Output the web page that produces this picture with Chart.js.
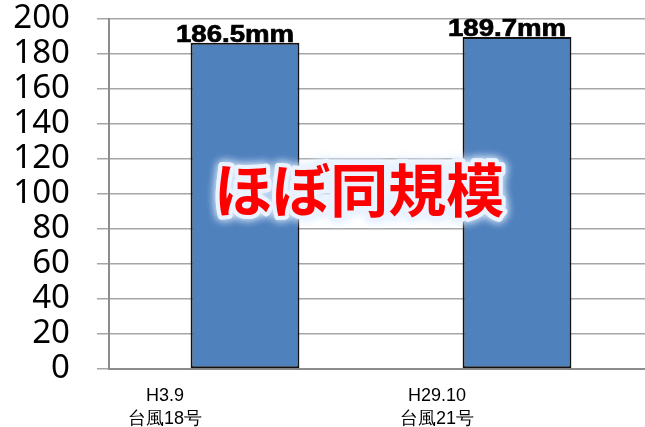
<!DOCTYPE html>
<html>
<head>
<meta charset="utf-8">
<script src="https://cdn.jsdelivr.net/npm/chart.js"></script>
<style>
    html, body { margin: 0; padding: 0; background: #fff; overflow: hidden; }
    #wrap { width: 645px; height: 427px; overflow: hidden; }
</style>
</head>
<body>
<div id="wrap"><canvas id="chart" width="660" height="427"></canvas></div>
<script>
// Rainfall totals for the two typhoons
const categories = [['H3.9', '台風18号'], ['H29.10', '台風21号']];
const rainfall = [186.5, 189.7];
const valueLabels = ['186.5mm', '189.7mm'];
const yTicks = [0, 20, 40, 60, 80, 100, 120, 140, 160, 180, 200];
const overlayText = 'ほぼ同規模';

// Draws the "mm" labels on top of each bar
const valueLabelPlugin = {
    id: 'valueLabels',
    afterDatasetsDraw(chart) {
        const ctx = chart.ctx;
        const meta = chart.getDatasetMeta(0);
        ctx.save();
        ctx.fillStyle = '#000';
        ctx.strokeStyle = '#000';
        ctx.lineWidth = 0.7;
        ctx.font = 'bold 23px "Liberation Sans", Arial, sans-serif';
        ctx.textAlign = 'center';
        ctx.textBaseline = 'alphabetic';
        meta.data.forEach((bar, i) => {
            ctx.save();
            ctx.translate(bar.x - 10, bar.y - 1);
            ctx.scale(1.2, 1);
            ctx.fillText(valueLabels[i], 0, 0);
            ctx.strokeText(valueLabels[i], 0, 0);
            ctx.restore();
        });
        ctx.restore();
    }
};

// Big red glowing caption over the chart
const overlayPlugin = {
    id: 'overlay',
    afterDraw(chart) {
        const ctx = chart.ctx;
        const area = chart.chartArea;
        const y = chart.scales.y.getPixelForValue(100) - 4;
        const x = area.left + area.width * 0.46;
        ctx.save();
        ctx.font = 'bold 58px "Noto Sans CJK JP", sans-serif';
        ctx.textAlign = 'center';
        ctx.textBaseline = 'middle';
        ctx.lineJoin = 'round';
        ctx.shadowColor = 'rgba(225,238,255,1)';
        ctx.shadowBlur = 10;
        ctx.strokeStyle = 'rgba(235,243,255,0.85)';
        ctx.lineWidth = 8;
        ctx.strokeText(overlayText, x, y);
        ctx.strokeText(overlayText, x, y);
        ctx.shadowBlur = 0;
        ctx.fillStyle = '#ff0000';
        ctx.fillText(overlayText, x, y);
        ctx.restore();
    }
};

new Chart(document.getElementById('chart'), {
    type: 'bar',
    data: {
        labels: categories,
        datasets: [{
            data: rainfall,
            backgroundColor: '#4f81bd',
            borderColor: '#111',
            borderWidth: 2,
            borderSkipped: false,
            categoryPercentage: 1.0,
            barPercentage: 0.4
        }]
    },
    options: {
        responsive: false,
        animation: false,
        layout: { padding: { top: 19, right: 7, left: 0, bottom: 0 } },
        plugins: {
            legend: { display: false },
            tooltip: { enabled: false }
        },
        scales: {
            x: {
                grid: { display: false },
                border: { display: true, color: '#8c8c8c', width: 2 },
                ticks: {
                    color: '#000',
                    font: { family: '"Liberation Sans Narrow", "Liberation Sans", sans-serif', size: 18, lineHeight: 1.25 },
                    padding: 8,
                    labelOffset: -80,
                    maxRotation: 0,
                    autoSkip: false
                },
                afterFit(scale) {
                    scale.height = 58;
                    scale.paddingLeft = 0;
                    scale.paddingRight = 0;
                }
            },
            y: {
                min: 0,
                max: 200,
                afterBuildTicks(scale) {
                    scale.ticks = yTicks.map(v => ({ value: v }));
                },
                grid: {
                    color: '#a6a6a6',
                    lineWidth: 1.5,
                    tickLength: 12,
                    drawTicks: true
                },
                border: { display: true, color: '#8c8c8c', width: 2 },
                ticks: {
                    color: '#000',
                    font: { family: '"Noto Sans", sans-serif', size: 33, lineHeight: 1.15 },
                    padding: 27,
                    autoSkip: false
                },
                afterFit(scale) {
                    scale.width = 109;
                    scale.paddingTop = 0;
                    scale.paddingBottom = 0;
                }
            }
        }
    },
    plugins: [valueLabelPlugin, overlayPlugin]
});
</script>
</body>
</html>
